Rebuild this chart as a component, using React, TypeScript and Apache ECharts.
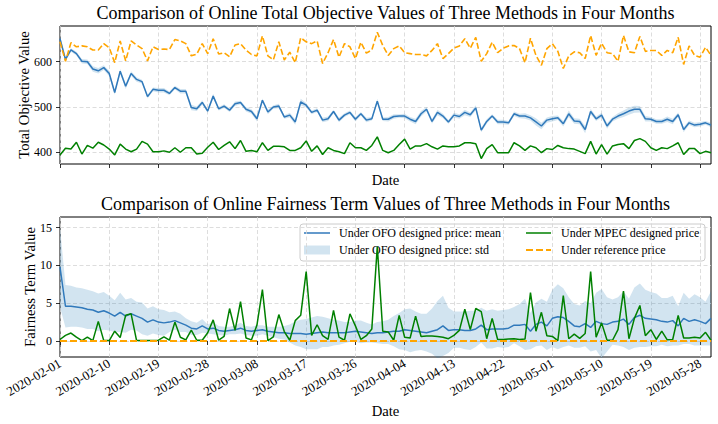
import React, { useEffect, useRef } from 'react';
import * as echarts from 'echarts';

// Daily dates, 2020-02-01 .. 2020-05-30
const START_DAY = Date.UTC(2020, 1, 1);
const DAY_MS = 86400000;
const dates: string[] = Array.from({ length: 120 }, (_, i) =>
  new Date(START_DAY + i * DAY_MS).toISOString().slice(0, 10)
);

// ---- Total objective values ----
const objOfoMean = [
  651, 605, 626, 618, 601, 600, 584, 580, 587, 574,
  532, 579, 546, 574, 561, 556, 523, 539, 537, 537,
  530, 543, 535, 535, 499, 496, 510, 491, 524, 496,
  502, 493, 507, 510, 495, 490, 474, 515, 489, 500,
  502, 478, 482, 467, 511, 504, 488, 493, 471, 474,
  490, 471, 482, 488, 473, 485, 471, 474, 513, 473,
  473, 479, 480, 480, 473, 468, 485, 495, 468, 488,
  480, 467, 482, 479, 488, 483, 498, 449, 468, 480,
  467, 467, 465, 485, 480, 480, 476, 467, 458, 471,
  474, 476, 463, 485, 469, 468, 450, 490, 474, 482,
  458, 473, 480, 485, 491, 495, 495, 474, 473, 468,
  468, 473, 468, 483, 450, 465, 460, 462, 465, 460,
];

const objOfoStd = [
  6, 5, 4, 4, 5, 5, 6, 6, 5, 6,
  5, 5, 6, 5, 5, 4, 4, 4, 5, 5,
  4, 4, 5, 5, 6, 5, 5, 4, 5, 4,
  4, 4, 5, 4, 5, 5, 6, 4, 5, 4,
  5, 4, 5, 6, 7, 5, 4, 4, 5, 5,
  4, 5, 4, 4, 5, 4, 5, 4, 5, 4,
  5, 5, 4, 5, 5, 6, 6, 5, 5, 6,
  5, 4, 5, 5, 6, 5, 6, 5, 5, 4,
  5, 5, 4, 5, 5, 6, 6, 8, 7, 6,
  6, 5, 6, 7, 6, 6, 8, 6, 5, 5,
  6, 5, 6, 7, 8, 8, 7, 6, 5, 5,
  5, 6, 6, 5, 6, 5, 5, 5, 4, 5,
];

const objMpec = [
  394, 409, 407, 422, 396, 415, 409, 422, 416, 407,
  394, 418, 407, 401, 407, 424, 418, 401, 401, 403,
  400, 410, 400, 410, 410, 396, 398, 411, 422, 406,
  415, 423, 408, 426, 402, 404, 401, 421, 404, 413,
  413, 412, 404, 404, 410, 425, 402, 414, 395, 410,
  404, 401, 397, 421, 410, 410, 404, 415, 434, 404,
  399, 404, 417, 429, 407, 414, 414, 419, 412, 407,
  414, 412, 412, 414, 421, 421, 419, 386, 408, 417,
  399, 399, 399, 421, 414, 404, 414, 410, 399, 408,
  406, 415, 410, 408, 407, 402, 397, 424, 396, 417,
  396, 414, 417, 419, 408, 426, 430, 424, 410, 404,
  410, 408, 414, 421, 395, 408, 408, 397, 402, 399,
];

const objReference = [
  644, 601, 642, 633, 635, 633, 626, 626, 640, 631,
  598, 646, 602, 646, 637, 629, 602, 633, 627, 628,
  627, 649, 646, 640, 613, 617, 640, 618, 651, 617,
  620, 611, 637, 640, 626, 616, 613, 657, 613, 604,
  644, 604, 621, 598, 653, 644, 640, 646, 596, 620,
  649, 610, 640, 633, 607, 643, 619, 626, 665, 636,
  614, 629, 635, 620, 618, 616, 616, 613, 625, 640,
  607, 618, 630, 635, 651, 630, 654, 601, 618, 643,
  620, 630, 635, 636, 629, 598, 652, 614, 592, 629,
  640, 623, 585, 613, 622, 620, 607, 658, 614, 641,
  620, 618, 601, 658, 622, 620, 656, 623, 625, 625,
  614, 625, 620, 654, 594, 635, 614, 610, 632, 614,
];

// ---- Fairness term values ----
const fairOfoMean = [
  9.8, 4.6, 4.6, 4.5, 4.4, 4.2, 4.1, 3.8, 4.0, 3.7,
  3.3, 3.8, 3.3, 3.6, 3.3, 3.0, 2.5, 2.8, 2.5, 2.4,
  2.5, 2.7, 2.4, 2.1, 1.7, 1.6, 2.0, 1.6, 1.7, 1.4,
  1.3, 1.4, 1.5, 1.7, 1.4, 1.3, 1.4, 1.5, 1.3, 1.2,
  1.1, 1.1, 1.0, 1.0, 1.0, 0.9, 1.0, 1.1, 1.2, 1.1,
  1.1, 1.1, 1.1, 1.2, 1.3, 1.2, 1.1, 1.0, 1.1, 1.1,
  1.2, 1.3, 1.3, 1.5, 1.4, 1.3, 1.2, 1.1, 1.3, 1.5,
  2.0, 1.4, 1.5, 1.5, 1.4, 1.4, 1.6, 2.1, 1.5, 1.6,
  1.6, 1.6, 1.7, 2.1, 2.1, 2.2, 1.3, 2.2, 2.5, 2.0,
  3.0, 3.2, 3.1, 2.6, 2.0, 1.9, 2.3, 1.8, 2.6, 2.3,
  2.2, 2.5, 2.6, 2.9, 2.2, 3.1, 3.4, 3.0, 2.9, 2.8,
  2.6, 2.5, 2.7, 2.0, 3.0, 2.6, 2.8, 2.6, 2.3, 3.0,
];

const fairOfoStd = [
  5.3, 2.8, 2.7, 2.6, 2.6, 2.6, 2.5, 2.5, 2.5, 2.3,
  2.1, 2.6, 2.2, 2.1, 1.9, 2.1, 1.8, 1.8, 1.7, 1.7,
  1.3, 1.2, 1.2, 0.9, 0.9, 0.8, 0.9, 0.6, 0.8, 0.6,
  0.6, 0.5, 0.6, 0.7, 0.6, 0.6, 0.7, 0.6, 0.6, 0.7,
  0.8, 0.9, 1.2, 1.6, 1.8, 2.0, 2.1, 2.2, 2.0, 1.9,
  1.7, 1.6, 1.4, 1.3, 1.4, 1.5, 1.3, 1.2, 1.4, 1.5,
  1.6, 2.0, 2.4, 2.7, 2.9, 2.6, 2.4, 2.5, 3.0, 3.8,
  4.0, 3.0, 2.4, 2.4, 2.5, 2.6, 2.4, 2.3, 2.5, 2.6,
  2.4, 2.5, 2.5, 2.4, 2.8, 3.4, 2.4, 2.9, 3.1, 3.2,
  3.8, 4.3, 3.9, 3.2, 2.9, 2.8, 3.0, 3.2, 3.8, 4.6,
  3.6, 3.0, 3.2, 3.7, 3.4, 4.0, 4.2, 3.8, 3.6, 3.5,
  3.1, 3.2, 3.3, 2.6, 3.4, 3.0, 3.4, 3.2, 2.9, 3.6,
];

const fairMpec = [
  0.2, 0.75, 1.05, 0.5, 0.05, 0.5, 0.05, 2.6, 0.05, 0.05,
  1.3, 0.45, 3.4, 3.6, 0.05, 0.05, 0.05, 0.05, 0.1, 0.55,
  0.1, 2.5, 0.5, 0.15, 1.45, 0.1, 0.1, 1.1, 2.8, 0.1,
  0.6, 4.3, 1.4, 5.2, 0.4, 0.15, 2.1, 6.8, 0.05, 0.55,
  3.5, 1.25, 0.1, 2.7, 3.4, 9.2, 0.75, 2.15, 0.7, 0.2,
  4.05, 0.5, 0.1, 3.6, 2.0, 0.2, 0.7, 1.6, 12.5, 1.3,
  1.2, 0.1, 3.4, 0.5, 0.4, 3.3, 0.6, 0.65, 0.65, 0.6,
  0.5, 0.3, 0.75, 1.4, 4.2, 1.5, 4.3, 3.9, 0.3, 3.0,
  0.2, 0.2, 0.25, 0.3, 0.2, 0.25, 6.4, 1.3, 3.8, 0.7,
  0.6, 0.05, 6.0, 0.3, 0.9, 0.35, 1.0, 9.2, 0.5, 2.4,
  0.1, 0.1, 1.5, 6.6, 0.3, 3.0, 4.7, 0.7, 1.5, 0.2,
  1.3, 0.15, 0.2, 3.4, 0.4, 0.4, 0.5, 0.4, 1.15, 0.1,
];

const fairReference = [
  0, 0, 0, 0, 0, 0, 0, 0, 0, 0,
  0, 0, 0, 0, 0, 0, 0, 0, 0, 0,
  0, 0, 0, 0, 0, 0, 0, 0, 0, 0,
  0, 0, 0, 0, 0, 0, 0, 0, 0, 0,
  0, 0, 0, 0, 0, 0, 0, 0, 0, 0,
  0, 0, 0, 0, 0, 0, 0, 0, 0, 0,
  0, 0, 0, 0, 0, 0, 0, 0, 0, 0,
  0, 0, 0, 0, 0, 0, 0, 0, 0, 0,
  0, 0, 0, 0, 0, 0, 0, 0, 0, 0,
  0, 0, 0, 0, 0, 0, 0, 0, 0, 0,
  0, 0, 0, 0, 0, 0, 0, 0, 0, 0,
  0, 0, 0, 0, 0, 0, 0, 0, 0, 0,
];

const objTicks = [400, 500, 600];
const fairTicks = [0, 5, 10, 15];

const LEGEND_MEAN = 'Under OFO designed price: mean';
const LEGEND_STD = 'Under OFO designed price: std';
const LEGEND_MPEC = 'Under MPEC designed price';
const LEGEND_REF = 'Under reference price';

const FONT = "'Liberation Serif', 'Times New Roman', 'DejaVu Serif', serif";
const BLUE = '#3079bb';
const BAND = 'rgba(31,119,180,0.2)';
const GREEN = '#008000';
const ORANGE = '#ffa500';
const GRID_LINE = { color: '#d4d4d4', width: 0.8, type: [4, 2.5] as number[] };

const TICK_EVERY = 8; // one tick every 9 days

// mean ± std band as two stacked line series: the lower edge, then the width
function bandSeries(mean: number[], std: number[], axisIndex: number, name: string) {
  const lower = mean.map((m, i) => +(m - std[i]).toFixed(4));
  const width = std.map((s) => +(2 * s).toFixed(4));
  const stackId = 'band' + axisIndex;
  return [
    {
      type: 'line',
      xAxisIndex: axisIndex,
      yAxisIndex: axisIndex,
      data: lower,
      stack: stackId,
      stackStrategy: 'all',
      symbol: 'none',
      silent: true,
      lineStyle: { opacity: 0 },
      z: 1,
    },
    {
      name,
      type: 'line',
      xAxisIndex: axisIndex,
      yAxisIndex: axisIndex,
      data: width,
      stack: stackId,
      stackStrategy: 'all',
      symbol: 'none',
      silent: true,
      lineStyle: { opacity: 0 },
      areaStyle: { color: BAND, opacity: 1 },
      z: 1,
    },
  ];
}

function lineSeries(
  name: string,
  data: number[],
  axisIndex: number,
  color: string,
  width: number,
  dashed?: number[]
) {
  return {
    name,
    type: 'line',
    xAxisIndex: axisIndex,
    yAxisIndex: axisIndex,
    data,
    symbol: 'none',
    silent: true,
    lineStyle: { color, width, type: dashed ? dashed : 'solid' },
    z: 3,
  };
}

function xAxis(gridIndex: number, withLabels: boolean, nameGap: number) {
  return {
    gridIndex,
    type: 'category',
    data: dates,
    boundaryGap: false,
    axisLine: { show: false },
    axisTick: {
      show: true,
      interval: TICK_EVERY,
      length: 4,
      lineStyle: { color: '#000', width: 0.8 },
    },
    axisLabel: {
      show: withLabels,
      interval: TICK_EVERY,
      rotate: 30,
      margin: 5,
      fontSize: 13,
      fontFamily: FONT,
      color: '#000',
    },
    splitLine: { show: true, interval: TICK_EVERY, lineStyle: GRID_LINE },
    name: 'Date',
    nameLocation: 'middle',
    nameGap,
    nameMoveOverlap: false,
    nameTextStyle: { fontFamily: FONT, fontSize: 14.7, color: '#000' },
  };
}

function yAxis(
  gridIndex: number,
  min: number,
  max: number,
  splitNumber: number,
  ticks: number[],
  name: string,
  nameGap: number
) {
  return {
    gridIndex,
    type: 'value',
    min,
    max,
    splitNumber,
    axisLine: { show: false },
    axisTick: {
      show: true,
      length: 4,
      customValues: ticks,
      lineStyle: { color: '#000', width: 0.8 },
    },
    axisLabel: {
      showMinLabel: false,
      showMaxLabel: false,
      margin: 8,
      fontSize: 12,
      fontFamily: FONT,
      color: '#000',
    },
    splitLine: { show: true, lineStyle: GRID_LINE },
    name,
    nameLocation: 'middle',
    nameGap,
    nameMoveOverlap: false,
    nameTextStyle: { fontFamily: FONT, fontSize: 14.7, color: '#000' },
  };
}

const titleStyle = { fontFamily: FONT, fontSize: 18, fontWeight: 'normal', color: '#000' };
const legendText = { fontFamily: FONT, fontSize: 12, fill: '#000' } as const;

const option = {
  animation: false,
  backgroundColor: '#ffffff',
  textStyle: { fontFamily: FONT, color: '#000' },
  title: [
    {
      text: 'Comparison of Online Total Objective Values of Three Methods in Four Months',
      left: 385.5,
      top: 4,
      textAlign: 'center',
      padding: 0,
      textStyle: titleStyle,
    },
    {
      text: 'Comparison of Online Fairness Term Values of Three Methods in Four Months',
      left: 385.5,
      top: 195,
      textAlign: 'center',
      padding: 0,
      textStyle: titleStyle,
    },
  ],
  grid: [
    {
      left: 60, top: 26, width: 651, height: 138,
      show: true, borderColor: '#000', borderWidth: 1, backgroundColor: 'transparent',
      containLabel: false, outerBoundsMode: 'none',
    },
    {
      left: 60, top: 217, width: 651, height: 140,
      show: true, borderColor: '#000', borderWidth: 1, backgroundColor: 'transparent',
      containLabel: false, outerBoundsMode: 'none',
    },
  ],
  xAxis: [xAxis(0, false, 8), xAxis(1, true, 46)],
  yAxis: [
    yAxis(0, 374, 679, 3, objTicks, 'Total Objective Value', 29),
    yAxis(1, -2.12, 16.42, 4, fairTicks, 'Fairness Term Value', 23),
  ],
  series: [
    ...bandSeries(objOfoMean, objOfoStd, 0, LEGEND_STD),
    lineSeries(LEGEND_MEAN, objOfoMean, 0, BLUE, 1.5),
    lineSeries(LEGEND_MPEC, objMpec, 0, GREEN, 1.5),
    lineSeries(LEGEND_REF, objReference, 0, ORANGE, 1.6, [6, 2.6]),
    ...bandSeries(fairOfoMean, fairOfoStd, 1, LEGEND_STD),
    lineSeries(LEGEND_MEAN, fairOfoMean, 1, BLUE, 1.5),
    lineSeries(LEGEND_MPEC, fairMpec, 1, GREEN, 1.5),
    lineSeries(LEGEND_REF, fairReference, 1, ORANGE, 2, [7, 3]),
  ],
  graphic: [
    {
      type: 'group',
      z: 100,
      children: [
        {
          type: 'rect',
          shape: { x: 300, y: 224, width: 405, height: 37, r: 3 },
          style: { fill: 'rgba(255,255,255,0.8)', stroke: '#cccccc', lineWidth: 1 },
        },
        {
          type: 'line',
          shape: { x1: 304, y1: 233, x2: 330, y2: 233 },
          style: { stroke: BLUE, lineWidth: 1.5 },
        },
        {
          type: 'rect',
          shape: { x: 304, y: 245.5, width: 26, height: 9 },
          style: { fill: BAND },
        },
        {
          type: 'line',
          shape: { x1: 526, y1: 233, x2: 551, y2: 233 },
          style: { stroke: GREEN, lineWidth: 1.5 },
        },
        {
          type: 'line',
          shape: { x1: 526, y1: 250, x2: 551, y2: 250 },
          style: { stroke: ORANGE, lineWidth: 2, lineDash: [7, 3] },
        },
        {
          type: 'text',
          x: 339,
          y: 233,
          style: { ...legendText, text: LEGEND_MEAN, textVerticalAlign: 'middle' },
        },
        {
          type: 'text',
          x: 339,
          y: 250,
          style: { ...legendText, text: LEGEND_STD, textVerticalAlign: 'middle' },
        },
        {
          type: 'text',
          x: 561,
          y: 233,
          style: { ...legendText, text: LEGEND_MPEC, textVerticalAlign: 'middle' },
        },
        {
          type: 'text',
          x: 561,
          y: 250,
          style: { ...legendText, text: LEGEND_REF, textVerticalAlign: 'middle' },
        },
      ],
    },
  ],
};

export default function App() {
  const ref = useRef<HTMLDivElement>(null);
  useEffect(() => {
    if (!ref.current) return;
    const chart = echarts.init(ref.current, null, { renderer: 'svg', width: 718, height: 424 });
    chart.setOption(option as any);
    return () => chart.dispose();
  }, []);
  return (
    <div
      ref={ref}
      style={{ position: 'absolute', left: 0, top: 0, width: 718, height: 424, background: '#fff' }}
    />
  );
}
